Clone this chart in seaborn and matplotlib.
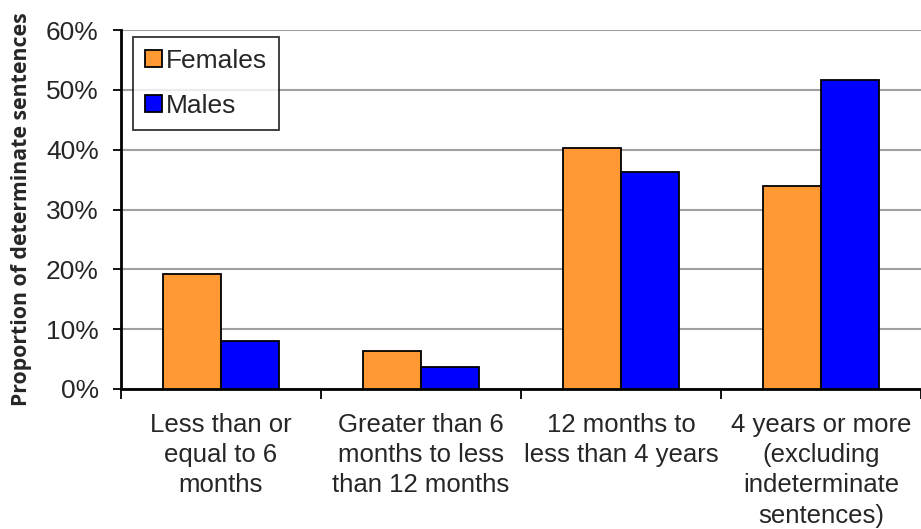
import matplotlib
matplotlib.use("Agg")
import matplotlib.pyplot as plt
import seaborn as sns
import pandas as pd
from matplotlib.ticker import FixedLocator, PercentFormatter

categories = ["Less than or\nequal to 6\nmonths",
              "Greater than 6\nmonths to less\nthan 12 months",
              "12 months to\nless than 4 years",
              "4 years or more\n(excluding\nindeterminate\nsentences)"]
females = [19.3, 6.3, 40.3, 33.9]
males = [8.05, 3.6, 36.3, 51.6]
series = ["Females", "Males"]
colors = ["#FF9933", "#0000FF"]

df = pd.DataFrame({
    "category": categories * 2,
    "value": females + males,
    "sex": [series[0]] * 4 + [series[1]] * 4,
})

sns.set_style("white")
plt.rcParams['font.family'] = ['Liberation Sans', 'DejaVu Sans']

fig = plt.figure(figsize=(9.21, 5.29), dpi=100)
ax = fig.add_axes([121 / 921, 140 / 529, 800 / 921, 359 / 529])

sns.barplot(data=df, x="category", y="value", hue="sex", palette=colors,
            width=0.58, edgecolor="black", linewidth=1.3, ax=ax, zorder=3,
            saturation=1)

ax.set_ylim(0, 60)
ax.set_xlim(-0.5, 3.5)
ax.set_yticks(range(0, 61, 10))
ax.yaxis.set_major_formatter(PercentFormatter(decimals=0))
ax.grid(axis="y", color="#a0a0a0", linewidth=1.5, zorder=0)
ax.set_axisbelow(True)

for s in ["top", "right"]:
    ax.spines[s].set_visible(False)
for s in ["left", "bottom"]:
    ax.spines[s].set_visible(True)
    ax.spines[s].set_color("black")
    ax.spines[s].set_linewidth(2)

ax.tick_params(axis="y", which="major", left=True, length=6, width=1.3,
               color="black", labelsize=19, pad=10)
ax.tick_params(axis="x", which="major", bottom=False, labelsize=18.5, pad=14)
ax.xaxis.set_minor_locator(FixedLocator([-0.5, 0.5, 1.5, 2.5, 3.5]))
ax.tick_params(axis="x", which="minor", bottom=True, length=7, width=1.3,
               color="black")
for lbl in ax.get_xticklabels():
    lbl.set_linespacing(1.32)

ax.set_xlabel("")
ax.set_ylabel("Proportion of determinate sentences", fontsize=15.3,
              fontweight="bold", family=["Open Sans", "DejaVu Sans"])
ax.yaxis.set_label_coords(-0.111, 0.5)

leg = ax.legend(loc="upper left", bbox_to_anchor=(0.015, 0.9805), fontsize=19,
                frameon=True, fancybox=False, edgecolor="black",
                handlelength=0.64, handleheight=0.64, handletextpad=0.15,
                borderpad=0.45, labelspacing=0.8, borderaxespad=0)
leg.get_frame().set_linewidth(1.3)
for h in leg.legend_handles:
    h.set_edgecolor("black")
    h.set_linewidth(1.3)

fig.savefig("out.png", dpi=100)
